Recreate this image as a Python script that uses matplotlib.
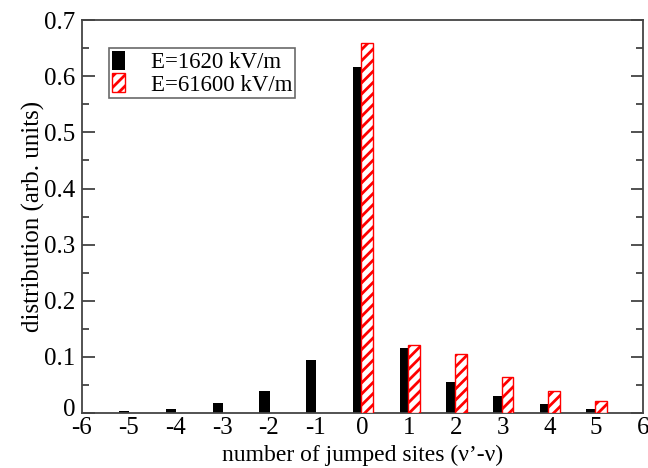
import numpy as np
import matplotlib
matplotlib.use("Agg")
import matplotlib.pyplot as plt
import matplotlib.transforms as mtransforms
from matplotlib.ticker import MultipleLocator

# jumped sites and distributions
sites = [-5, -4, -3, -2, -1, 0, 1, 2, 3, 4, 5]
dist_low = [0.004, 0.008, 0.018, 0.040, 0.095, 0.617, 0.115, 0.056, 0.031, 0.016, 0.007]
sites_high = [0, 1, 2, 3, 4, 5]
dist_high = [0.659, 0.122, 0.105, 0.065, 0.039, 0.022]

label_low = "E=1620 kV/m"
label_high = "E=61600 kV/m"

plt.rcParams['font.family'] = ['Liberation Serif', 'DejaVu Serif']
plt.rcParams['axes.unicode_minus'] = False
plt.rcParams['hatch.linewidth'] = 2.0
plt.rcParams['hatch.color'] = 'red'

fig = plt.figure(figsize=(6.48, 4.68), dpi=100)
ax = fig.add_axes([0.1265, 0.1175, 0.8655, 0.8395])

x_low = np.array(sites)
x_high = np.array(sites_high)
ax.bar(x_low - 0.095, dist_low, width=0.22, color='black', label=label_low, zorder=2)
ax.bar(x_high + 0.105, dist_high, width=0.25, color='white', edgecolor='red',
       hatch='///', linewidth=1.0, label=label_high, zorder=3)

ax.set_xlim(-6, 6)
ax.set_ylim(0, 0.7)
ax.xaxis.set_major_locator(MultipleLocator(1))
ax.yaxis.set_minor_locator(MultipleLocator(0.05))
ax.set_yticks(np.arange(0, 0.71, 0.1))
ax.set_yticklabels(['0'] + ['%.1f' % v for v in np.arange(0.1, 0.71, 0.1)])

ax.tick_params(axis='y', which='major', direction='in', length=9, width=1.2,
               labelsize=18, right=True, color='#333333', pad=5)
ax.tick_params(axis='y', which='minor', direction='in', length=5, width=1.2,
               right=True, color='#333333')
ax.tick_params(axis='x', which='major', direction='in', length=0,
               labelsize=18, pad=3)
for s in ax.spines.values():
    s.set_linewidth(1.3)
    s.set_color('#444444')

# nudge the "0" label up a little so it clears the "-6" below it
zero_lbl = ax.get_yticklabels()[0]
zero_lbl.set_transform(zero_lbl.get_transform() +
                       mtransforms.ScaledTranslation(0, 4 / 72, fig.dpi_scale_trans))

ax.set_xlabel("number of jumped sites (\u03bd\u2019-\u03bd)", fontsize=17)
ax.set_ylabel("distribution (arb. units)", fontsize=18)
ax.xaxis.set_label_coords(0.5, -0.082)
ax.yaxis.set_label_coords(-0.066, 0.5)

leg = ax.legend(loc='upper left', bbox_to_anchor=(0.048, 0.929), fontsize=16.5,
                frameon=True, fancybox=False, handlelength=0.6, handleheight=0.9,
                handletextpad=1.1, borderpad=0.12, labelspacing=0.0, borderaxespad=0)
leg.get_frame().set_edgecolor('#444444')
leg.get_frame().set_linewidth(1.2)

fig.savefig("out.png", dpi=100)
